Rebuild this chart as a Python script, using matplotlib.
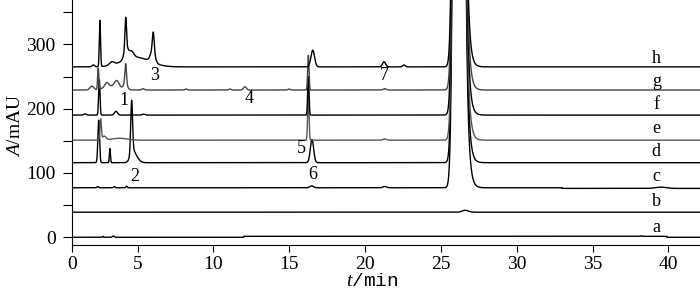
import numpy as np
import matplotlib
matplotlib.use('Agg')
import matplotlib.pyplot as plt

plt.rcParams['font.family'] = ['Liberation Serif', 'DejaVu Serif']
plt.rcParams['mathtext.fontset'] = 'custom'
plt.rcParams['mathtext.it'] = 'Liberation Serif:italic'
plt.rcParams['mathtext.rm'] = 'Liberation Serif'

# chromatograms a..h, bottom to top: baseline offset (mAU)
names = ['a', 'b', 'c', 'd', 'e', 'f', 'g', 'h']
baselines = [0, 39, 77, 116, 151, 190, 229, 265]
colors = ['black', 'black', 'black', 'black', '#555555', 'black', '#444444', 'black']

# peaks of each trace: (retention time /min, height /mAU, sigma /min)
peaks_a = [(2.72, 1.5, 0.03), (3.40, 2.0, 0.06), (38.23, 1.0, 0.03)]
peaks_b = [(26.6, 3.0, 0.2)]
peaks_c = [(2.37, 2.0, 0.05), (3.47, 2.0, 0.05), (4.28, 2.5, 0.05),
           (16.48, 3.0, 0.12), (21.3, 2.0, 0.12), (39.5, 2.0, 0.35)]
peaks_d = [(2.44, 66, 0.055), (3.18, 22, 0.035), (4.61, 80, 0.06),
           (4.66, 15, 0.16), (4.9, 8, 0.2), (16.5, 36, 0.11)]
peaks_e = [(2.57, 32, 0.045), (2.8, 6, 0.12), (3.8, 3, 0.5),
           (16.26, 70, 0.045), (21.3, 2, 0.1)]
peaks_f = [(1.54, 2, 0.08), (2.48, 55, 0.045), (3.58, 6, 0.1),
           (5.4, 1.5, 0.1), (16.26, 60, 0.045)]
peaks_g = [(1.98, 6, 0.12), (2.41, 33, 0.04), (2.97, 7, 0.12), (3.63, 10, 0.15),
           (3.3, 6, 0.5), (4.22, 30, 0.05), (4.2, 10, 0.12), (5.36, 2, 0.08),
           (8.2, 1.5, 0.08), (11.1, 1.5, 0.08), (12.08, 5, 0.1), (15.0, 1.5, 0.08),
           (16.26, 54, 0.045), (21.3, 2, 0.1)]
peaks_h = [(2.08, 3, 0.08), (2.52, 72, 0.04), (3.3, 5, 0.15), (4.22, 48, 0.05),
           (4.25, 18, 0.14), (4.6, 10, 0.15), (4.9, 15, 0.9), (6.04, 30, 0.06),
           (6.0, 18, 0.15), (16.55, 26, 0.12), (21.25, 8, 0.1), (22.56, 3, 0.08)]
all_peaks = [peaks_a, peaks_b, peaks_c, peaks_d, peaks_e, peaks_f, peaks_g, peaks_h]

# baseline shifts: (time /min, shift /mAU)
steps_a = [(12.0, 1.5), (39.9, -1.5)]
steps_c = [(33.0, -1.0)]
all_steps = [steps_a, [], steps_c, [], [], [], [], []]

# big off-scale peak at ~26 min (only in c..h)
main_heights = [0, 0, 3000, 3000, 3000, 3000, 3000, 3000]
main_t = 26.15
main_left = 0.2
main_right = 0.18
tail_level = 30  # mAU at 27 min

# peak numbers and trace letters: (time, mAU, text)
peak_labels = [(6.15, 252, '3'), (4.13, 213, '1'), (12.35, 216, '4'), (4.83, 94, '2'),
               (15.78, 138, '5'), (16.55, 97, '6'), (21.27, 251, '7')]
trace_label_t = 39.2
trace_label_y = [15.5, 55, 94, 133, 169, 207, 243, 278]

t = np.arange(0.66, 42.1, 0.005)


def gauss(t, t0, h, s):
    return h * np.exp(-(t - t0) ** 2 / (2 * s ** 2))


fig = plt.figure(figsize=(7, 2.97), dpi=100)
ax = fig.add_axes([71.7 / 700, 52 / 297, 628.3 / 700, 245 / 297])

for i in range(len(names)):
    y = np.full_like(t, baselines[i], dtype=float)
    for t0, h, s in all_peaks[i]:
        y += gauss(t, t0, h, s)
    for ts, dy in all_steps[i]:
        y += np.where(t >= ts, dy, 0.0)
    H = main_heights[i]
    if H:
        s = np.where(t < main_t, main_left, main_right)
        y += H * np.exp(-(t - main_t) ** 2 / (2 * s ** 2))
        tail = tail_level * np.exp(-(np.maximum(t, 26.3) - 27.0) / 0.15)
        y += tail * 0.5 * (1 + np.tanh((t - 26.45) / 0.05))
    ax.plot(t, y, color=colors[i], lw=1.0)

for x, yv, s in peak_labels:
    ax.text(x, yv, s, ha='center', va='center', fontsize=13)
for name, yv in zip(names, trace_label_y):
    ax.text(trace_label_t, yv, name, ha='center', va='center', fontsize=13)

ax.set_xlim(0.66, 42.08)
ax.set_ylim(-12, 369)
ax.set_xticks([0.66, 5, 10, 15, 20, 25, 30, 35, 40])
ax.set_xticklabels(['0', '5', '10', '15', '20', '25', '30', '35', '40'])
ax.set_yticks([0, 100, 200, 300])
ax.set_yticks([50, 150, 250, 350], minor=True)
ax.tick_params(axis='x', direction='out', length=5, width=0.8, labelsize=14, pad=3)
ax.tick_params(axis='y', which='both', direction='out', length=6.5, width=0.8,
               labelsize=14, pad=5)
ax.spines['top'].set_visible(False)
ax.spines['right'].set_visible(False)
ax.spines['left'].set_linewidth(0.8)
ax.spines['bottom'].set_linewidth(0.8)

ax.set_xlabel('$t$/min', fontsize=14, family='Liberation Mono')
ax.xaxis.set_label_coords(0.478, -0.151)
ax.xaxis.label.set_va('center')
ax.set_ylabel('$A$/mAU', fontsize=14)
ax.yaxis.set_label_coords(-0.09, 0.49)
ax.yaxis.label.set_va('center')

plt.savefig('out.png', dpi=100)
